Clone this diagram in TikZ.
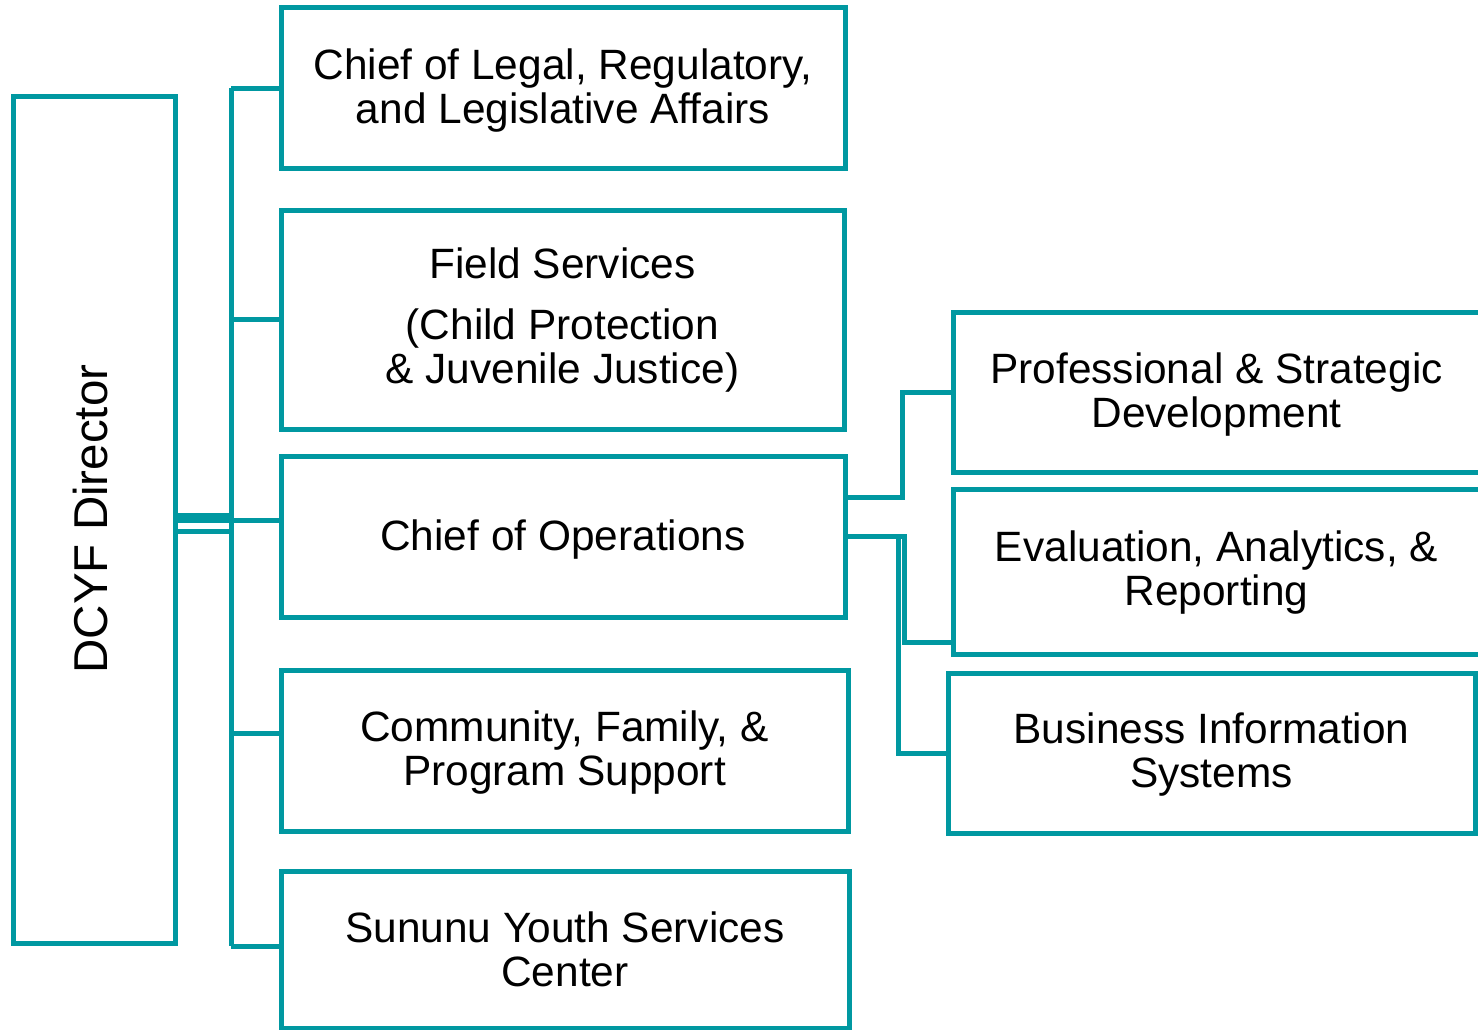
\documentclass[tikz,border=0pt]{standalone}
\usepackage{fontspec}
\setmainfont{Liberation Sans}
\definecolor{tealline}{RGB}{0,152,161}
\begin{document}
\begin{tikzpicture}[x=1pt,y=-1pt,
  box/.style={draw=tealline, line width=5pt, align=center, inner sep=0pt, fill=white,
    font=\fontsize{42.4}{44}\selectfont},
  txt/.style={align=center, inner sep=0pt, font=\fontsize{42.4}{44}\selectfont},
  conn/.style={draw=tealline, line width=5pt}]
\useasboundingbox (0,0) rectangle (1478,1030);

% boxes
\node[box, minimum width=162pt, minimum height=846pt] (dir) at (94,520) {};
\node[rotate=90, inner sep=0pt, font=\fontsize{47.5}{49}\selectfont] (dirlabel) at (91,519) {DCYF Director};
\node[box, minimum width=564pt, minimum height=161pt] (legal) at (563,88.5) {};
\node[txt] (legalt) at ([yshift=-2.5pt]legal.center) {Chief of Legal, Regulatory,\\and Legislative Affairs};
\node[box, minimum width=563pt, minimum height=219pt] (field) at (562.5,319.5) {};
\node[txt] (fieldt) at ([yshift=-0.5pt]field.center) {Field Services\\[17pt](Child Protection\\\& Juvenile Justice)};
\node[box, minimum width=564pt, minimum height=161pt] (ops) at (563,536.5) {};
\node[txt] (opst) at ([yshift=-3pt]ops.center) {Chief of Operations};
\node[box, minimum width=567pt, minimum height=161pt] (comm) at (564.5,750.5) {};
\node[txt] (commt) at ([yshift=-2pt]comm.center) {Community, Family, \&\\Program Support};
\node[box, minimum width=568pt, minimum height=157pt] (sununu) at (565,949.5) {};
\node[txt] (sununut) at ([yshift=0pt]sununu.center) {Sununu Youth Services\\Center};
\node[box, minimum width=527pt, minimum height=160pt] (psd) at (1216.5,392) {};
\node[txt] (psdt) at ([yshift=-2.5pt]psd.center) {Professional \& Strategic\\Development};
\node[box, minimum width=527pt, minimum height=165pt] (ear) at (1216.5,571.5) {};
\node[txt] (eart) at ([yshift=-1pt]ear.center) {Evaluation, Analytics, \&\\Reporting};
\node[box, minimum width=527pt, minimum height=160pt] (bis) at (1211.5,753) {};
\node[txt] (bist) at ([yshift=-2pt]bis.center) {Business Information\\Systems};

% left bus
\coordinate (bustop) at (231,88);
\coordinate (busbot) at (231,946);
\draw[conn] (bustop) -- (busbot);
\draw[conn] (legal.west) -- (legal.west -| bustop);
\draw[conn] (field.west) -- (field.west -| bustop);
\draw[conn] ([yshift=16.5pt]ops.west) -- ([yshift=16.5pt]ops.west -| bustop);
\draw[conn] ([yshift=17.5pt]comm.west) -- ([yshift=17.5pt]comm.west -| bustop);
\draw[conn] ([yshift=3.5pt]sununu.west) -- ([yshift=3.5pt]sununu.west -| bustop);
\draw[conn, line width=10pt] ([yshift=2.5pt]dir.east) -- ([yshift=2.5pt]dir.east -| bustop);
\draw[conn] ([yshift=-11.5pt]dir.east) -- ([yshift=-11.5pt]dir.east -| bustop);

% right connectors
\draw[conn] ([yshift=39.5pt]ops.east) -- ++(55,0) |- (psd.west);
\draw[conn] (ops.east) -- ++(57,0) |- ([yshift=-70.5pt]ear.west);
\draw[conn] (ops.east) -- ++(51,0) |- (bis.west);
\end{tikzpicture}
\end{document}
